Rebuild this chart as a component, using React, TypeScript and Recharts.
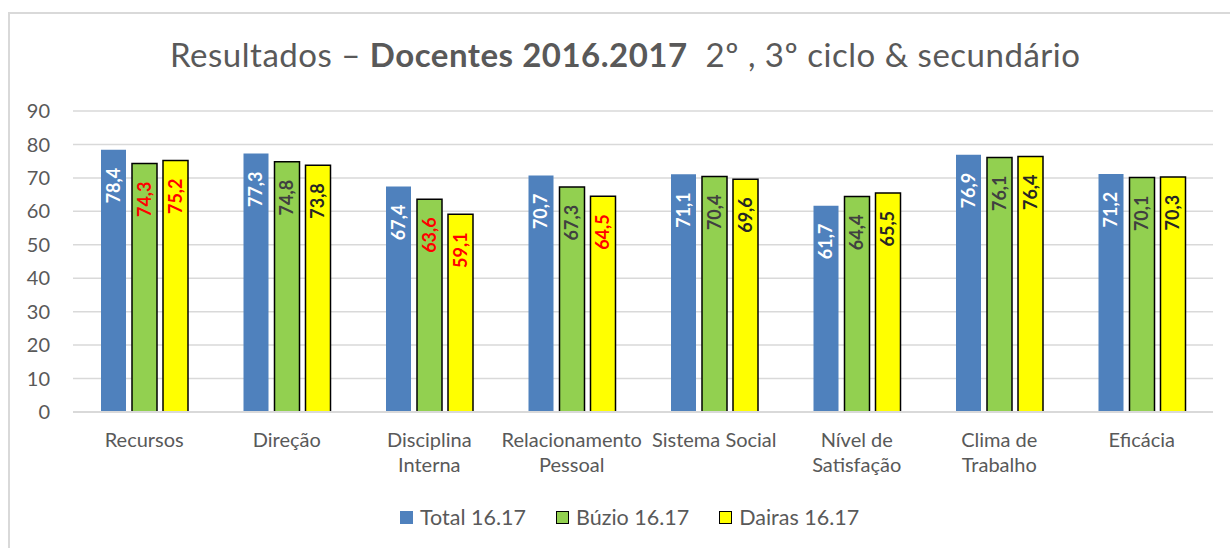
import { BarChart, Bar, XAxis, YAxis, CartesianGrid, LabelList } from 'recharts';

const categories = [
  'Recursos',
  'Direção',
  'Disciplina\nInterna',
  'Relacionamento\nPessoal',
  'Sistema Social',
  'Nível de\nSatisfação',
  'Clima de\nTrabalho',
  'Eficácia',
];
const total1617 = [78.4, 77.3, 67.4, 70.7, 71.1, 61.7, 76.9, 71.2];
const buzio1617 = [74.3, 74.8, 63.6, 67.3, 70.4, 64.4, 76.1, 70.1];
const dairas1617 = [75.2, 73.8, 59.1, 64.5, 69.6, 65.5, 76.4, 70.3];
// valores destacados a vermelho no original
const buzioRed = [true, false, true, false, false, false, false, false];
const dairasRed = [true, false, true, true, false, false, false, false];
const yTicks = [0, 10, 20, 30, 40, 50, 60, 70, 80, 90];

const data = categories.map((c, i) => ({
  name: c,
  total: total1617[i],
  buzio: buzio1617[i],
  dairas: dairas1617[i],
}));

const FONT = 'Lato, "Open Sans", sans-serif';
const GREY = '#595959';
const BLUE = '#4f81bd';
const GREEN = '#92d050';
const YELLOW = '#ffff00';

const fmt = (v: number) => v.toFixed(1).replace('.', ',');

const rotatedLabel = (colorAt: (i: number) => string) => (props: any) => {
  const { x, y, width, value, index } = props;
  const cx = Number(x) + Number(width) / 2;
  const ty = Number(y) + 18;
  return (
    <text
      x={cx}
      y={ty}
      dy="0.36em"
      transform={`rotate(-90 ${cx} ${ty})`}
      textAnchor="end"
      fill={colorAt(index)}
      fontFamily={FONT}
      fontWeight="bold"
      fontSize={18}
    >
      {fmt(Number(value))}
    </text>
  );
};

const CategoryTick = (props: any) => {
  const { x, y, payload } = props;
  const lines = String(payload.value).split('\n');
  return (
    <text x={x} y={y + 35} textAnchor="middle" fill={GREY} fontFamily={FONT} fontSize={20}>
      {lines.map((l, i) => (
        <tspan key={i} x={x} dy={i === 0 ? 0 : 25}>
          {l}
        </tspan>
      ))}
    </text>
  );
};

const legendItems = [
  { label: 'Total 16.17', color: BLUE, border: 'none' },
  { label: 'Búzio 16.17', color: GREEN, border: '1.5px solid #000' },
  { label: 'Dairas 16.17', color: YELLOW, border: '1.5px solid #000' },
];

export default function App() {
  return (
    <div style={{ position: 'relative', width: 1230, height: 548, overflow: 'hidden', background: '#fff' }}>
      <style>{'body{margin:0}'}</style>
      <div
        style={{
          position: 'absolute',
          left: 8,
          top: 12,
          width: 1260,
          height: 580,
          border: '2px solid #d9d9d9',
        }}
      />
      <svg width={1230} height={100} style={{ position: 'absolute', left: 0, top: 0 }}>
        <text
          x={625}
          y={67}
          textAnchor="middle"
          fill={GREY}
          fontFamily={FONT}
          fontSize={33}
          textLength={910}
        >
          Resultados – <tspan fontWeight="bold">Docentes 2016.2017</tspan>
          {'\u00a0\u00a02º , 3º ciclo & secundário'}
        </text>
      </svg>
      <div style={{ position: 'absolute', left: 0, top: 0 }}>
        <BarChart
          width={1230}
          height={548}
          data={data}
          margin={{ top: 111, right: 17, bottom: 56, left: 0 }}
          barSize={25}
          barGap={6}
        >
          <CartesianGrid vertical={false} stroke="#d9d9d9" strokeWidth={1.5} />
          <XAxis
            dataKey="name"
            height={80}
            interval={0}
            tickLine={false}
            tickSize={0}
            tickMargin={0}
            axisLine={{ stroke: '#d9d9d9', strokeWidth: 2 }}
            tick={<CategoryTick />}
          />
          <YAxis
            width={73}
            domain={[0, 90]}
            ticks={yTicks}
            axisLine={false}
            tickLine={false}
            tickSize={0}
            tickMargin={23}
            tick={{ fill: GREY, fontFamily: FONT, fontSize: 20 }}
          />
          <Bar dataKey="total" fill={BLUE} isAnimationActive={false}>
            <LabelList dataKey="total" content={rotatedLabel(() => '#ffffff')} />
          </Bar>
          <Bar dataKey="buzio" fill={GREEN} stroke="#000" strokeWidth={1.5} isAnimationActive={false}>
            <LabelList dataKey="buzio" content={rotatedLabel((i) => (buzioRed[i] ? '#ff0000' : '#404040'))} />
          </Bar>
          <Bar dataKey="dairas" fill={YELLOW} stroke="#000" strokeWidth={1.5} isAnimationActive={false}>
            <LabelList dataKey="dairas" content={rotatedLabel((i) => (dairasRed[i] ? '#ff0000' : '#262626'))} />
          </Bar>
        </BarChart>
      </div>
      <div
        style={{
          position: 'absolute',
          left: 400,
          top: 504,
          display: 'flex',
          alignItems: 'center',
          fontFamily: FONT,
          fontSize: 21.5,
          color: GREY,
        }}
      >
        {legendItems.map((it, i) => (
          <div key={it.label} style={{ display: 'flex', alignItems: 'center', marginLeft: i === 0 ? 0 : 30 }}>
            <span
              style={{
                display: 'inline-block',
                width: 13,
                height: 13,
                background: it.color,
                border: it.border,
                boxSizing: 'border-box',
                marginRight: 7,
              }}
            />
            <span>{it.label}</span>
          </div>
        ))}
      </div>
    </div>
  );
}
